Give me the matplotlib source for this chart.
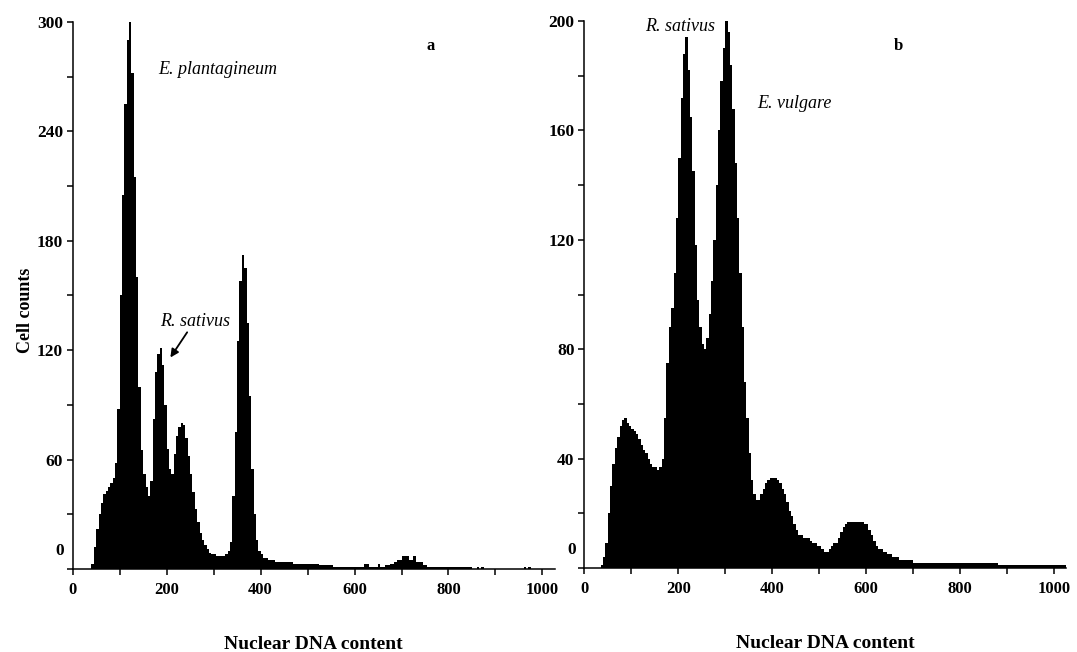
import numpy as np
import matplotlib
matplotlib.use("Agg")
import matplotlib.pyplot as plt
from matplotlib.ticker import MultipleLocator

plt.rcParams['font.family'] = ['Liberation Serif', 'DejaVu Serif']

# histogram channel width (nuclear DNA content units)
BIN_WIDTH = 5

# panel a: E. plantagineum with R. sativus standard
counts_a = [
    0, 0, 0, 0, 0, 0, 0, 0, 3, 12,
    22, 30, 36, 41, 43, 45, 47, 50, 58, 88,
    150, 205, 255, 290, 300, 272, 215, 160, 100, 65,
    52, 45, 40, 48, 82, 108, 118, 121, 112, 90,
    66, 55, 52, 63, 73, 78, 80, 79, 72, 62,
    52, 42, 33, 26, 20, 16, 13, 11, 9, 8,
    8, 7, 7, 7, 7, 8, 10, 15, 40, 75,
    125, 158, 172, 165, 135, 95, 55, 30, 16, 10,
    8, 6, 6, 5, 5, 5, 4, 4, 4, 4,
    4, 4, 4, 4, 3, 3, 3, 3, 3, 3,
    3, 3, 3, 3, 3, 2, 2, 2, 2, 2,
    2, 1, 1, 1, 1, 1, 1, 1, 1, 1,
    1, 1, 1, 1, 3, 3, 1, 1, 1, 1,
    3, 1, 1, 2, 2, 3, 3, 4, 5, 5,
    7, 7, 7, 5, 5, 7, 4, 4, 4, 2,
    2, 1, 1, 1, 1, 1, 1, 1, 1, 1,
    1, 1, 1, 1, 1, 1, 1, 1, 1, 1,
    0, 0, 1, 0, 1, 0, 0, 0, 0, 0,
    0, 0, 0, 0, 0, 0, 0, 0, 0, 0,
    0, 0, 1, 0, 1, 0, 0, 0, 0, 0,
    0, 0, 0, 0, 0, 0,
]

# panel b: E. vulgare with R. sativus standard
counts_b = [
    0, 0, 0, 0, 0, 0, 0, 1, 4, 9,
    20, 30, 38, 44, 48, 52, 54, 55, 53, 52,
    51, 50, 49, 47, 45, 43, 42, 40, 38, 37,
    37, 36, 37, 40, 55, 75, 88, 95, 108, 128,
    150, 172, 188, 194, 182, 165, 145, 118, 98, 88,
    82, 80, 84, 93, 105, 120, 140, 160, 178, 190,
    200, 196, 184, 168, 148, 128, 108, 88, 68, 55,
    42, 32, 27, 25, 25, 27, 29, 31, 32, 33,
    33, 33, 32, 31, 29, 27, 24, 21, 19, 16,
    14, 12, 12, 11, 11, 11, 10, 9, 9, 8,
    8, 7, 6, 6, 7, 8, 9, 9, 11, 13,
    15, 16, 17, 17, 17, 17, 17, 17, 17, 16,
    16, 14, 12, 10, 8, 7, 7, 6, 6, 5,
    5, 4, 4, 4, 3, 3, 3, 3, 3, 3,
    2, 2, 2, 2, 2, 2, 2, 2, 2, 2,
    2, 2, 2, 2, 2, 2, 2, 2, 2, 2,
    2, 2, 2, 2, 2, 2, 2, 2, 2, 2,
    2, 2, 2, 2, 2, 2, 1, 1, 1, 1,
    1, 1, 1, 1, 1, 1, 1, 1, 1, 1,
    1, 1, 1, 1, 1, 1, 1, 1, 1, 1,
    1, 1, 1, 1, 1, 1,
]

xlabel = "Nuclear DNA content"
ylabel = "Cell counts"


def draw_panel(ax, counts, ymax, ystep, letter):
    edges = np.arange(len(counts) + 1) * BIN_WIDTH
    ax.stairs(counts, edges, fill=True, color='black', linewidth=0)

    ax.set_xlim(0, 1026)
    ax.set_ylim(0, ymax)
    for side in ['top', 'right']:
        ax.spines[side].set_visible(False)
    for side in ['left', 'bottom']:
        ax.spines[side].set_linewidth(1.1)

    ax.xaxis.set_major_locator(MultipleLocator(200))
    ax.xaxis.set_minor_locator(MultipleLocator(100))
    ax.yaxis.set_major_locator(MultipleLocator(ystep))
    ax.yaxis.set_minor_locator(MultipleLocator(ystep / 2))
    ax.tick_params(which='both', direction='out', length=4, width=1.1)
    ax.tick_params(axis='x', pad=5, labelsize=12)
    ax.tick_params(axis='y', pad=3, labelsize=12.5)

    yt = np.arange(0, ymax + 1, ystep)
    ax.set_yticks(yt, [str(int(v)) if v > 0 else "" for v in yt])
    for lbl in ax.get_xticklabels() + ax.get_yticklabels():
        lbl.set_fontweight('bold')

    # zero label sits a little above the baseline
    ax.annotate("0", xy=(0, 0), xycoords=('axes fraction', 'data'),
                xytext=(-6, 13), textcoords='offset points',
                ha='right', va='center', fontsize=12.5, fontweight='bold')

    ax.set_xlabel(xlabel, fontsize=14, fontweight='bold')
    ax.xaxis.set_label_coords(0.5, -0.122)
    ax.xaxis.label.set_va('top')

    ax.text(*letter[1], letter[0], fontsize=12, fontweight='bold',
            ha='center', va='center')


fig = plt.figure(figsize=(10.77, 6.52), dpi=100)
ax_a = fig.add_axes([0.0675, 0.1273, 0.4475, 0.839])
ax_b = fig.add_axes([0.5425, 0.1288, 0.4475, 0.839])

draw_panel(ax_a, counts_a, 300, 60, ("a", (762, 287)))
draw_panel(ax_b, counts_b, 200, 40, ("b", (669, 191)))

ax_a.set_ylabel(ylabel, fontsize=13, fontweight='bold')
ax_a.yaxis.set_label_coords(-0.08, 0.473)

ax_a.text(181, 274, "E. plantagineum", fontsize=13, style='italic',
          ha='left', va='center')
ax_a.annotate("R. sativus", xy=(208, 116), xytext=(185, 136),
              fontsize=13, style='italic', ha='left', va='center',
              arrowprops=dict(arrowstyle='-|>', color='black', lw=1.3,
                              mutation_scale=12, shrinkA=0, shrinkB=0,
                              relpos=(0.42, 0.0)))

ax_b.text(129, 198, "R. sativus", fontsize=13, style='italic',
          ha='left', va='center')
ax_b.text(368, 170, "E. vulgare", fontsize=13, style='italic',
          ha='left', va='center')

fig.savefig("out.png", dpi=100)
